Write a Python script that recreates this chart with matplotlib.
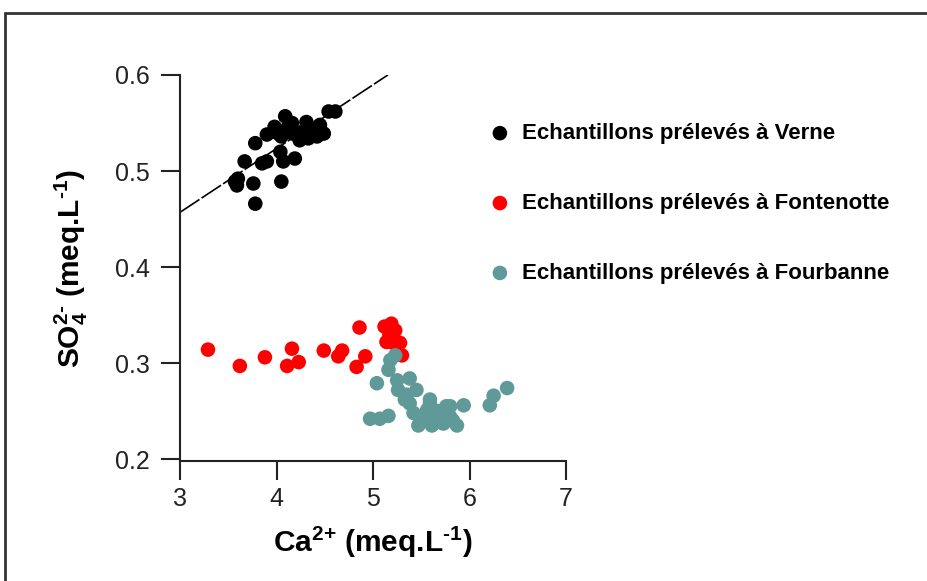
import matplotlib
matplotlib.use("Agg")
import matplotlib.pyplot as plt
from matplotlib.patches import Rectangle
import numpy as np

plt.rcParams['font.family'] = ['Liberation Sans', 'DejaVu Sans']
plt.rcParams['mathtext.fontset'] = 'custom'
plt.rcParams['mathtext.rm'] = 'Liberation Sans:bold'
plt.rcParams['mathtext.bf'] = 'Liberation Sans:bold'
plt.rcParams['mathtext.default'] = 'rm'

# ── data ────────────────────────────────────────────────────────
verne_ca = [3.78, 3.59, 3.57, 3.60, 3.76, 4.05, 3.67, 3.85, 3.90, 4.07,
            4.19, 3.78, 4.04, 3.90, 3.98, 4.09, 4.11, 4.05, 4.17, 4.16,
            4.24, 4.31, 4.33, 4.42, 4.45, 4.38, 4.54, 4.61, 4.49, 4.00,
            4.12, 4.27]
verne_so4 = [0.466, 0.485, 0.489, 0.492, 0.487, 0.489, 0.510, 0.508, 0.510, 0.510,
             0.513, 0.529, 0.520, 0.538, 0.546, 0.557, 0.543, 0.536, 0.539, 0.550,
             0.532, 0.551, 0.534, 0.536, 0.548, 0.543, 0.562, 0.562, 0.539, 0.540,
             0.546, 0.541]

fontenotte_ca = [3.29, 3.62, 3.88, 4.16, 4.11, 4.23, 4.49, 4.68, 4.64, 4.92,
                 4.83, 4.86, 5.12, 5.19, 5.23, 5.14, 5.21, 5.28, 5.30, 5.17]
fontenotte_so4 = [0.314, 0.297, 0.306, 0.315, 0.297, 0.301, 0.313, 0.313, 0.307, 0.307,
                  0.296, 0.337, 0.338, 0.341, 0.334, 0.322, 0.321, 0.321, 0.308, 0.330]

fourbanne_ca = [4.97, 5.07, 5.16, 5.04, 5.18, 5.23, 5.16, 5.25, 5.38, 5.26,
                5.45, 5.35, 5.33, 5.38, 5.59, 5.59, 5.49, 5.56, 5.66, 5.47,
                5.61, 5.73, 5.87, 5.80, 5.76, 5.80, 5.94, 6.21, 6.25, 6.39,
                5.52, 5.68, 5.64, 5.42, 5.83]
fourbanne_so4 = [0.242, 0.242, 0.245, 0.279, 0.303, 0.308, 0.293, 0.282, 0.284, 0.272,
                 0.272, 0.267, 0.262, 0.258, 0.262, 0.258, 0.244, 0.251, 0.244, 0.235,
                 0.235, 0.237, 0.235, 0.244, 0.255, 0.255, 0.256, 0.256, 0.266, 0.274,
                 0.240, 0.250, 0.238, 0.248, 0.240]

# regression line drawn through the Verne samples
fit_intercept = 0.457   # SO4 at Ca = 3
fit_slope = 0.0664
fit_x = [3.0, 5.155]

labels = ["Echantillons prélevés à Verne",
          "Echantillons prélevés à Fontenotte",
          "Echantillons prélevés à Fourbanne"]
colors = ["black", "#ff0000", "#5f9a98"]

x_ticks = [3, 4, 5, 6, 7]
y_ticks = [0.2, 0.3, 0.4, 0.5, 0.6]

# ── figure ──────────────────────────────────────────────────────
W, H = 927, 581
fig = plt.figure(figsize=(W / 100, H / 100), dpi=100)
ax = fig.add_axes([180 / W, 1 - 461 / H, 386 / W, 386 / H])

series = [(verne_ca, verne_so4), (fontenotte_ca, fontenotte_so4),
          (fourbanne_ca, fourbanne_so4)]
for (xs, ys), c, lab in zip(series, colors, labels):
    ax.scatter(xs, ys, s=110, color=c, edgecolors="none", label=lab, zorder=3)

fx = np.array(fit_x)
ax.plot(fx, fit_intercept + fit_slope * (fx - 3.0), color="black", lw=1.2,
        dashes=(14, 1.5), zorder=2)

ax.set_xlim(3, 7)
ax.set_ylim(0.198, 0.6)
ax.set_xticks(x_ticks)
ax.set_yticks(y_ticks)
ax.set_xticklabels([str(t) for t in x_ticks])
ax.set_yticklabels([f"{t:.1f}" for t in y_ticks])
ax.tick_params(direction="out", length=14, width=1.5, labelsize=18,
               colors="#222222")
ax.tick_params(axis="x", pad=5)
ax.tick_params(axis="y", pad=8)
for side in ["top", "right"]:
    ax.spines[side].set_visible(False)
for side in ["left", "bottom"]:
    ax.spines[side].set_linewidth(1.5)
    ax.spines[side].set_color("#222222")

ax.set_xlabel(r"Ca$^{2{+}}$ (meq.L$^{\text{-}1}$)", fontsize=21.5,
              fontweight="bold", labelpad=10)
ax.set_ylabel(r"SO$_{4}^{2\text{-}}$ (meq.L$^{\text{-}1}$)", fontsize=21.5,
              fontweight="bold", labelpad=18)

leg = fig.legend(loc="upper left", bbox_to_anchor=(491 / W, 1 - 123 / H),
                 frameon=False, fontsize=16, handlelength=0.8, handletextpad=0.6,
                 labelspacing=2.2, borderpad=0, borderaxespad=0,
                 scatterpoints=1, markerscale=1.0)
for t in leg.get_texts():
    t.set_fontweight("bold")

# outer frame of the original figure
fig.add_artist(Rectangle((5 / W, -1), 2, 1 - 13 / H + 1, transform=fig.transFigure,
                         fill=False, lw=2, edgecolor="#333333"))

fig.savefig("out.png", dpi=100)
